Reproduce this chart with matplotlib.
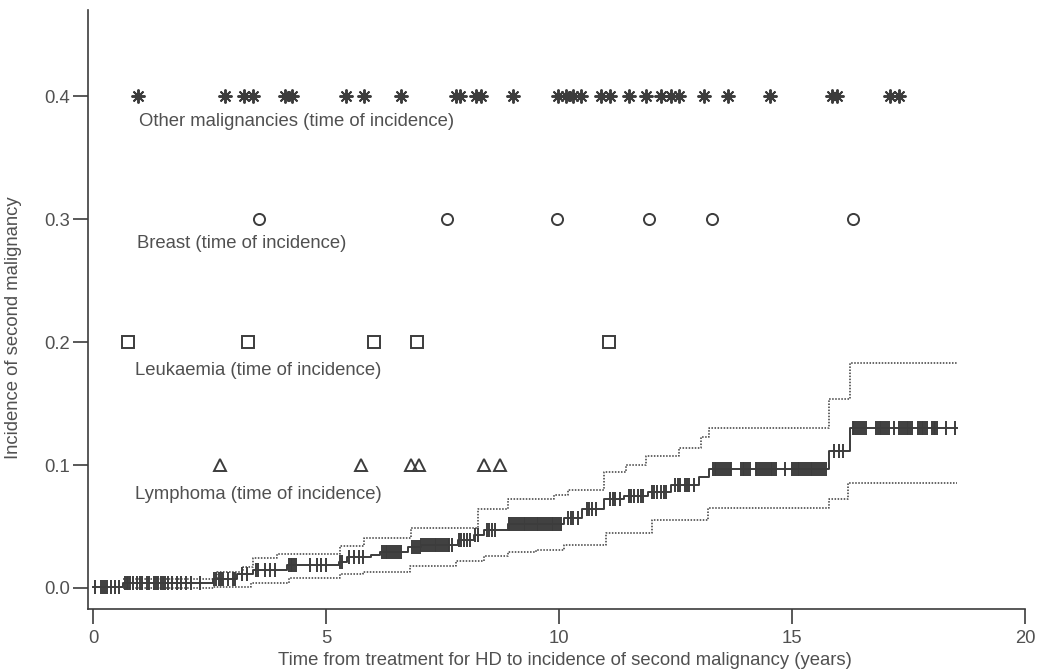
"""Cumulative incidence of second malignancy after HD treatment (redrawn figure)."""

import matplotlib

matplotlib.use("Agg")
import matplotlib.pyplot as plt
import numpy as np

# time of incidence of each second malignancy, by type (years)
other_times = [0.97, 2.84, 3.25, 3.44, 4.13, 4.28, 5.42, 5.81, 6.60, 7.78, 7.88,
               8.22, 8.32, 9.01, 9.98, 10.15, 10.30, 10.47, 10.90, 11.10, 11.51,
               11.87, 12.19, 12.41, 12.58, 13.12, 13.63, 14.52, 15.86, 15.96,
               17.10, 17.29]
breast_times = [3.57, 7.59, 9.96, 11.94, 13.29, 16.30]
leuk_times = [0.75, 3.33, 6.04, 6.95, 11.08]
lymph_times = [2.73, 5.76, 6.82, 6.99, 8.39, 8.73]
row_levels = [0.4, 0.3, 0.2, 0.1]
row_labels = ["Other malignancies (time of incidence)", "Breast (time of incidence)",
              "Leukaemia (time of incidence)", "Lymphoma (time of incidence)"]

# cumulative incidence curve (step, post) and its confidence limits
km_t = [0, 0.65, 2.58, 3.10, 3.44, 4.17, 5.27, 5.46, 5.96, 6.17, 6.75, 7.03, 7.83,
        8.17, 8.39, 8.90, 10.10, 10.50, 10.97, 11.40, 11.90, 12.40, 13.00, 13.23,
        15.80, 16.24, 18.54]
km_s = [0.001, 0.004, 0.0074, 0.011, 0.015, 0.019, 0.021, 0.025, 0.027, 0.029,
        0.033, 0.035, 0.039, 0.043, 0.047, 0.052, 0.057, 0.064, 0.072, 0.075, 0.078,
        0.084, 0.090, 0.0967, 0.111, 0.130, 0.130]
up_t = [0.65, 2.66, 3.23, 3.44, 3.95, 5.31, 5.81, 6.82, 8.26, 8.90, 9.90, 10.19,
        10.97, 11.44, 11.87, 12.58, 13.05, 13.23, 15.80, 16.24, 18.54]
up_s = [0.007, 0.013, 0.017, 0.024, 0.028, 0.034, 0.041, 0.049, 0.064, 0.072, 0.076,
        0.080, 0.094, 0.100, 0.107, 0.114, 0.123, 0.130, 0.154, 0.183, 0.183]
lo_t = [0.65, 2.60, 3.40, 4.20, 5.30, 5.80, 6.80, 7.80, 8.40, 8.90, 9.50, 10.10,
        11.00, 12.00, 13.20, 15.80, 16.20, 18.54]
lo_s = [0.0, 0.001, 0.004, 0.008, 0.011, 0.013, 0.018, 0.022, 0.026, 0.029, 0.031,
        0.035, 0.045, 0.055, 0.065, 0.072, 0.085, 0.085]

# censoring times (follow-up of patients without second malignancy)
censor_times = [
    0.05, 0.18, 0.22, 0.26, 0.30, 0.38, 0.47, 0.55,
    0.68, 0.72, 0.76, 0.80, 0.85, 0.95, 1.00, 1.05, 1.15, 1.20, 1.30, 1.35, 1.40,
    1.45, 1.50, 1.55, 1.60, 1.70, 1.80, 1.90, 2.00, 2.10, 2.30,
    2.60, 2.65, 2.70, 2.75, 2.80, 2.90, 3.00, 3.05, 3.20, 3.30,
    3.50, 3.55, 3.70, 3.80, 3.90, 4.20, 4.24, 4.28, 4.32, 4.36, 4.65, 4.80, 4.90,
    5.00, 5.30, 5.35, 5.50, 5.60, 5.70, 5.80, 6.20, 6.24, 6.28, 6.32, 6.36, 6.40,
    6.44, 6.48, 6.52, 6.56, 6.60, 6.85, 6.89, 6.93, 6.97, 7.01, 7.05, 7.09, 7.13,
    7.17, 7.21, 7.25, 7.29, 7.33, 7.37, 7.41, 7.45, 7.49, 7.53, 7.57, 7.61, 7.65,
    7.70, 7.85, 7.90, 7.96, 8.02, 8.10, 8.20, 8.26, 8.45, 8.50, 8.56, 8.62,
    8.92, 8.96, 9.00, 9.04, 9.08, 9.12, 9.16, 9.20, 9.24, 9.28, 9.32, 9.36, 9.40,
    9.44, 9.48, 9.52, 9.56, 9.60, 9.64, 9.68, 9.72, 9.76, 9.80, 9.84, 9.88, 9.92,
    9.96, 10.00, 10.04,
    10.20, 10.25, 10.30, 10.40, 10.60, 10.65, 10.70, 10.80, 11.10, 11.15, 11.20,
    11.30, 11.50, 11.55, 11.60, 11.70, 11.75, 11.80, 12.00, 12.05, 12.10, 12.20,
    12.25, 12.30, 12.50, 12.55, 12.60, 12.70, 12.75, 12.80, 12.90,
    13.30, 13.34, 13.38, 13.42, 13.46, 13.50, 13.54, 13.58, 13.62, 13.66, 13.70,
    13.90, 13.94, 13.98, 14.02, 14.06, 14.10, 14.22, 14.26, 14.30, 14.34, 14.38,
    14.42, 14.46, 14.50, 14.54, 14.58, 14.62, 14.66, 14.85, 15.00, 15.04, 15.08,
    15.12, 15.16, 15.20, 15.24, 15.28, 15.32, 15.36, 15.40, 15.44, 15.48, 15.52,
    15.56, 15.60, 15.64, 15.68, 15.72,
    15.90, 16.00, 16.10, 16.30, 16.34, 16.38, 16.42, 16.46, 16.50, 16.54, 16.58,
    16.80, 16.84, 16.88, 16.92, 16.96, 17.00, 17.04, 17.08, 17.20, 17.30, 17.34,
    17.38, 17.42, 17.46, 17.50, 17.54, 17.58, 17.70, 17.74, 17.78, 17.82, 17.86,
    17.90, 18.00, 18.04, 18.08, 18.12, 18.30, 18.50,
]

INK = "#3c3c3c"
TXT = "#505050"
FS = 13.3

plt.rcParams["font.family"] = ["Liberation Sans", "DejaVu Sans"]

fig = plt.figure(figsize=(10.41, 6.71), dpi=100)
ax = fig.add_axes([0.0845, 0.0924, 0.9001, 0.8926])

# rows of markers with labels
row_times = [other_times, breast_times, leuk_times, lymph_times]
row_markers = [(8, 2, 0), "o", "s", "^"]
row_sizes = [10, 8, 8, 8]
label_x = [0.99, 0.94, 0.90, 0.90]
label_dy = [0.021, 0.020, 0.023, 0.024]
for times, lev, mk, ms, lab, lx, dy in zip(row_times, row_levels, row_markers,
                                           row_sizes, row_labels, label_x, label_dy):
    ax.plot(times, [lev] * len(times), linestyle="none", marker=mk, ms=ms,
            mfc="none" if mk != (8, 2, 0) else INK, mec=INK, mew=1.4)
    ax.text(lx, lev - dy, lab, fontsize=FS, color=TXT, ha="left", va="center")

# incidence curve with confidence limits
ax.step(km_t, km_s, where="post", color=INK, lw=1.4)
ax.step(up_t, up_s, where="post", color=INK, lw=1.1, linestyle=(0, (1, 1)))
ax.step(lo_t, lo_s, where="post", color=INK, lw=1.1, linestyle=(0, (1, 1)))

idx = np.searchsorted(km_t, censor_times, side="right") - 1
ax.plot(censor_times, np.array(km_s)[idx], linestyle="none", marker="|", ms=10,
        mew=1.4, color=INK)

ax.set_xlim(-0.107, 20.0)
ax.set_ylim(-0.0171, 0.47)
ax.set_xticks([0, 5, 10, 15, 20])
ax.set_yticks([0.0, 0.1, 0.2, 0.3, 0.4])
ax.set_yticklabels(["0.0", "0.1", "0.2", "0.3", "0.4"])
for side in ("top", "right"):
    ax.spines[side].set_visible(False)
for side in ("left", "bottom"):
    ax.spines[side].set_color(INK)
    ax.spines[side].set_linewidth(1.2)
ax.tick_params(axis="both", direction="out", length=11, width=1.2, color=INK,
               labelcolor=TXT, labelsize=FS)
ax.tick_params(axis="y", pad=2)
ax.tick_params(axis="x", pad=4)
ax.set_xlabel("Time from treatment for HD to incidence of second malignancy (years)",
              fontsize=FS, color=TXT)
ax.set_ylabel("Incidence of second malignancy", fontsize=FS, color=TXT)
ax.xaxis.set_label_coords(0.509, -0.072)
ax.yaxis.set_label_coords(-0.0704, 0.469)

fig.savefig("out.png", dpi=100)
